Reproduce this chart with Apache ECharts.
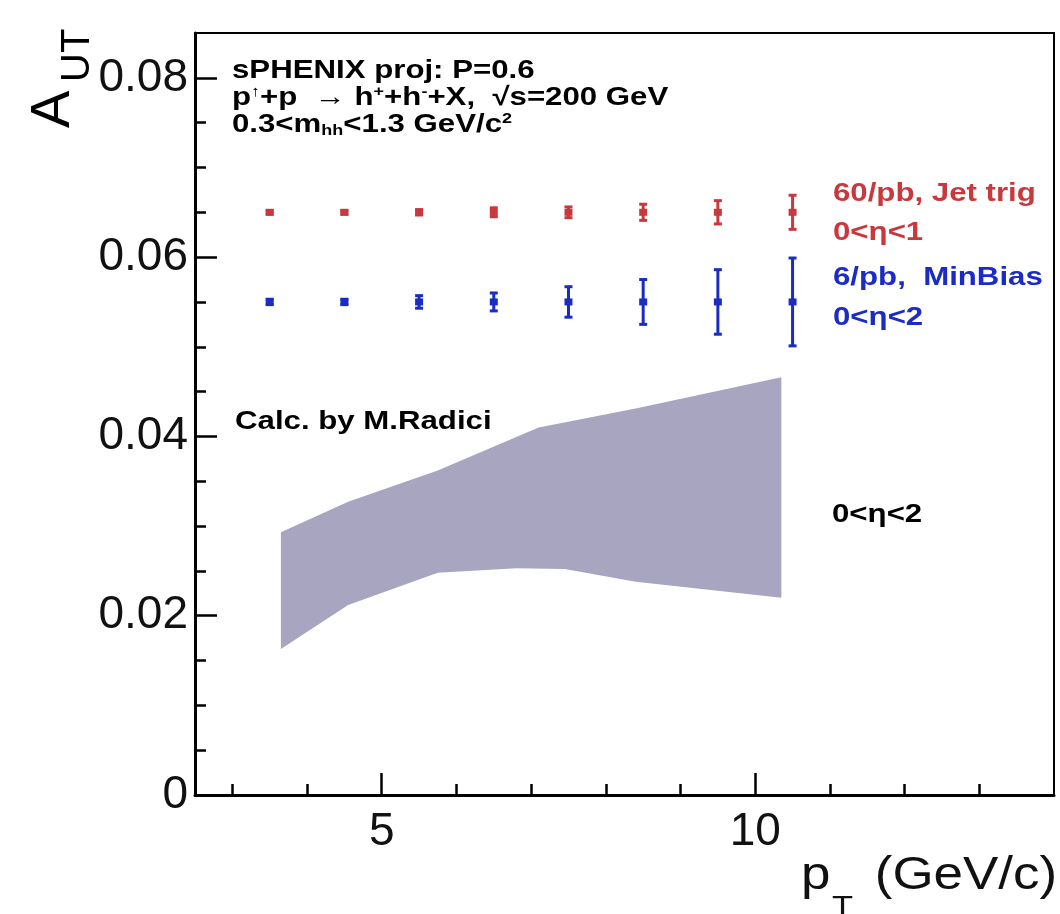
<!DOCTYPE html>
<html>
<head>
<meta charset="utf-8">
<script src="https://cdn.jsdelivr.net/npm/echarts@6/dist/echarts.min.js"></script>
<style>
  html, body { margin: 0; padding: 0; background: #fff; }
  #chart { width: 1060px; height: 914px; }
</style>
</head>
<body>
<div id="chart"></div>
<script>
// pT bin centres (GeV/c)
const ptBins = [3.5, 4.5, 5.5, 6.5, 7.5, 8.5, 9.5, 10.5];

// 60/pb, Jet trig, 0<eta<1 : projected A_UT and stat. error
const jetTrigValues = [0.065, 0.065, 0.065, 0.065, 0.065, 0.065, 0.065, 0.065];
const jetTrigErrors = [0.0002, 0.0002, 0.0003, 0.0005, 0.0006, 0.0009, 0.0013, 0.0019];

// 6/pb, MinBias, 0<eta<2
const minBiasValues = [0.055, 0.055, 0.055, 0.055, 0.055, 0.055, 0.055, 0.055];
const minBiasErrors = [0.0003, 0.0003, 0.0007, 0.0010, 0.0017, 0.0025, 0.0036, 0.0049];

// theory band (Calc. by M.Radici), upper and lower edges
const bandUpperX = [3.65, 4.55, 5.75, 7.1, 8.4, 10.35];
const bandUpperY = [0.0293, 0.0327, 0.0362, 0.0410, 0.0431, 0.0466];
const bandLowerX = [3.65, 4.55, 5.75, 6.8, 7.45, 8.4, 10.35];
const bandLowerY = [0.0163, 0.0212, 0.0248, 0.0253, 0.0252, 0.0238, 0.0220];

// axis ticks
const xMajorTicks = [5, 10];
const xMinorTicks = [3, 4, 6, 7, 8, 9, 11, 12, 13];
const yMajorTicks = [0, 0.02, 0.04, 0.06, 0.08];
const yMinorTicks = [0.005, 0.01, 0.015, 0.025, 0.03, 0.035, 0.045, 0.05, 0.055, 0.065, 0.07, 0.075];

const RED = '#c8383c';
const BLUE = '#1a2cc4';
const BAND = '#a7a5bf';
const FONT = '"Liberation Sans", Arial, Helvetica, sans-serif';
const SX = 1.2; // text in the original is drawn wide

const chart = echarts.init(document.getElementById('chart'));

function errorBarItem(color) {
  return function (params, api) {
    const x = api.value(0), y = api.value(1), e = api.value(2);
    const hi = api.coord([x, y + e]);
    const lo = api.coord([x, y - e]);
    const c = api.coord([x, y]);
    const cap = 4;
    const style = { stroke: color, lineWidth: 3 };
    return {
      type: 'group',
      children: [
        { type: 'line', shape: { x1: hi[0], y1: hi[1], x2: lo[0], y2: lo[1] }, style },
        { type: 'line', shape: { x1: hi[0] - cap, y1: hi[1], x2: hi[0] + cap, y2: hi[1] }, style },
        { type: 'line', shape: { x1: lo[0] - cap, y1: lo[1], x2: lo[0] + cap, y2: lo[1] }, style },
        { type: 'rect', shape: { x: c[0] - 4, y: c[1] - 3.5, width: 8, height: 7 }, style: { fill: color } }
      ]
    };
  };
}

function bandItem(params, api) {
  const pts = [];
  for (let i = 0; i < bandUpperX.length; i++) pts.push(api.coord([bandUpperX[i], bandUpperY[i]]));
  for (let i = bandLowerX.length - 1; i >= 0; i--) pts.push(api.coord([bandLowerX[i], bandLowerY[i]]));
  return { type: 'polygon', shape: { points: pts }, style: { fill: BAND } };
}

function label(x, y, text, color, extra) {
  return Object.assign({
    type: 'text', x: x, y: y, scaleX: SX,
    style: { text: text, fill: color, fontFamily: FONT, fontWeight: 'bold', fontSize: 26,
             align: 'left', verticalAlign: 'middle' }
  }, extra || {});
}

const supStyle = { fontSize: 15, fontWeight: 'bold', fontFamily: FONT, fill: '#000', lineHeight: 12, verticalAlign: 'top' };
const subStyle = { fontSize: 15, fontWeight: 'bold', fontFamily: FONT, fill: '#000', lineHeight: 12, verticalAlign: 'bottom' };
const mainStyle = { fontSize: 26, fontWeight: 'bold', fontFamily: FONT, fill: '#000', lineHeight: 27 };

const option = {
  animation: false,
  backgroundColor: '#fff',
  grid: { left: 195, right: 6, top: 33, bottom: 119, show: true, borderColor: '#000', borderWidth: 2 },
  xAxis: [{
    type: 'value', min: 2.5, max: 14,
    axisLine: { show: true, lineStyle: { color: '#000', width: 3 } },
    axisTick: { show: true, inside: true, length: 22, customValues: xMajorTicks, lineStyle: { color: '#000', width: 2.5 } },
    axisLabel: { customValues: xMajorTicks, fontSize: 46, fontFamily: FONT, color: '#111', margin: 14 },
    splitLine: { show: false }
  }, {
    type: 'value', min: 2.5, max: 14, position: 'bottom',
    axisLine: { show: false },
    axisTick: { show: true, inside: true, length: 11, customValues: xMinorTicks, lineStyle: { color: '#000', width: 2.5 } },
    axisLabel: { show: false },
    splitLine: { show: false }
  }],
  yAxis: [{
    type: 'value', min: 0, max: 0.085,
    axisLine: { show: true, lineStyle: { color: '#000', width: 3 } },
    axisTick: { show: true, inside: true, length: 22, customValues: yMajorTicks, lineStyle: { color: '#000', width: 2.5 } },
    axisLabel: { customValues: yMajorTicks, fontSize: 46, fontFamily: FONT, color: '#111', margin: 7,
                 formatter: v => (v === 0 ? '0' : v.toFixed(2)) },
    splitLine: { show: false }
  }, {
    type: 'value', min: 0, max: 0.085, position: 'left',
    axisLine: { show: false },
    axisTick: { show: true, inside: true, length: 11, customValues: yMinorTicks, lineStyle: { color: '#000', width: 2.5 } },
    axisLabel: { show: false },
    splitLine: { show: false }
  }],
  series: [{
    name: 'Calc. by M.Radici',
    type: 'custom',
    renderItem: bandItem,
    data: [[bandUpperX[0], bandUpperY[0]]],
    z: 1
  }, {
    name: '60/pb, Jet trig',
    type: 'custom',
    renderItem: errorBarItem(RED),
    encode: { x: 0, y: 1 },
    data: ptBins.map((x, i) => [x, jetTrigValues[i], jetTrigErrors[i]]),
    z: 3
  }, {
    name: '6/pb, MinBias',
    type: 'custom',
    renderItem: errorBarItem(BLUE),
    encode: { x: 0, y: 1 },
    data: ptBins.map((x, i) => [x, minBiasValues[i], minBiasErrors[i]]),
    z: 3
  }],
  graphic: [
    // top-left caption
    {
      type: 'text', x: 232, y: 57, scaleX: SX,
      style: {
        text: '{m|sPHENIX proj: P=0.6}\n' +
              '{m|p}{sup|↑}{m|+p  → h}{sup|+}{m|+h}{sup|-}{m|+X,  √s=200 GeV}\n' +
              '{m|0.3<m}{sub|hh}{m|<1.3 GeV/c}{sup|2}',
        align: 'left', verticalAlign: 'top',
        rich: { m: mainStyle, sup: supStyle, sub: subStyle }
      }
    },
    label(833, 194, '60/pb, Jet trig', RED),
    label(833, 233, '0<η<1', RED),
    label(833, 278, '6/pb,  MinBias', BLUE),
    label(833, 318, '0<η<2', BLUE),
    label(235, 422, 'Calc. by M.Radici', '#000'),
    label(832, 515, '0<η<2', '#000'),
    // y axis title A_UT
    { type: 'text', x: 54, y: 128, rotation: Math.PI / 2,
      style: { text: 'A', fontSize: 56, fontFamily: FONT, fill: '#000', align: 'left', verticalAlign: 'middle' } },
    { type: 'text', x: 78, y: 82, rotation: Math.PI / 2,
      style: { text: 'UT', fontSize: 40, fontFamily: FONT, fill: '#000', align: 'left', verticalAlign: 'middle' } },
    // x axis title p_T (GeV/c)
    { type: 'text', x: 801, y: 876, scaleX: 1.15,
      style: { text: 'p', fontSize: 46, fontFamily: FONT, fill: '#111', align: 'left', verticalAlign: 'middle' } },
    { type: 'text', x: 832, y: 908, scaleX: 1.15,
      style: { text: 'T', fontSize: 30, fontFamily: FONT, fill: '#111', align: 'left', verticalAlign: 'middle' } },
    { type: 'text', x: 1057, y: 876, scaleX: 1.15,
      style: { text: '(GeV/c)', fontSize: 46, fontFamily: FONT, fill: '#111', align: 'right', verticalAlign: 'middle' } }
  ]
};

chart.setOption(option);
</script>
</body>
</html>
